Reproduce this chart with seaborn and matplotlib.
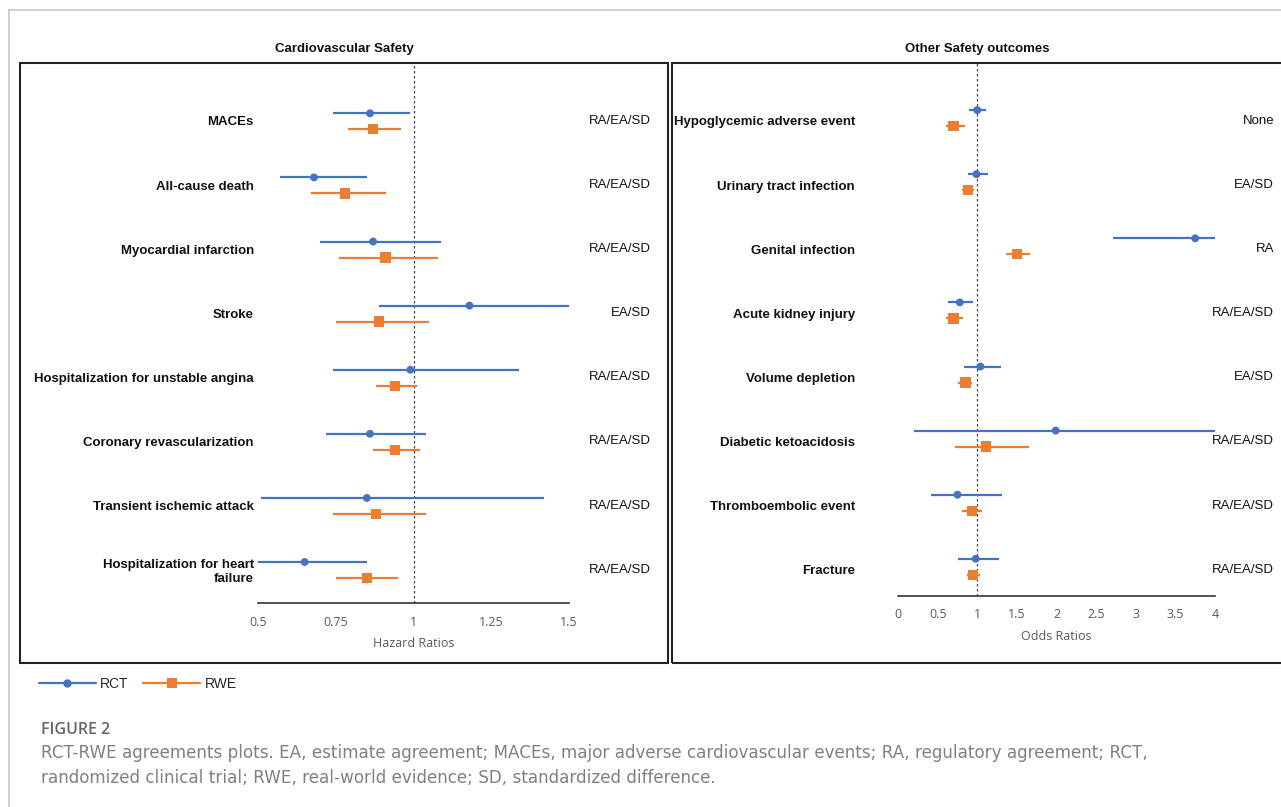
import pandas as pd
import matplotlib.pyplot as plt
import matplotlib.transforms as mtransforms
import seaborn as sns
from matplotlib.lines import Line2D
from matplotlib.patches import Rectangle

# ---- dati ----
cv_outcomes = ["MACEs", "All-cause death", "Myocardial infarction", "Stroke",
               "Hospitalization for unstable angina", "Coronary revascularization",
               "Transient ischemic attack", "Hospitalization for heart\nfailure"]
cv_rct_est = [0.86, 0.68, 0.87, 1.18, 0.99, 0.86, 0.85, 0.65]
cv_rct_lo = [0.74, 0.57, 0.70, 0.89, 0.74, 0.72, 0.51, 0.50]
cv_rct_hi = [0.99, 0.85, 1.09, 1.50, 1.34, 1.04, 1.42, 0.85]
cv_rwe_est = [0.87, 0.78, 0.91, 0.89, 0.94, 0.94, 0.88, 0.85]
cv_rwe_lo = [0.79, 0.67, 0.76, 0.75, 0.88, 0.87, 0.74, 0.75]
cv_rwe_hi = [0.96, 0.91, 1.08, 1.05, 1.01, 1.02, 1.04, 0.95]
cv_agreement = ["RA/EA/SD", "RA/EA/SD", "RA/EA/SD", "EA/SD",
                "RA/EA/SD", "RA/EA/SD", "RA/EA/SD", "RA/EA/SD"]

ot_outcomes = ["Hypoglycemic adverse event", "Urinary tract infection", "Genital infection",
               "Acute kidney injury", "Volume depletion", "Diabetic ketoacidosis",
               "Thromboembolic event", "Fracture"]
ot_rct_est = [1.00, 0.99, 3.75, 0.78, 1.04, 1.99, 0.75, 0.98]
ot_rct_lo = [0.90, 0.88, 2.71, 0.63, 0.83, 0.20, 0.42, 0.76]
ot_rct_hi = [1.11, 1.13, 4.00, 0.95, 1.30, 4.00, 1.31, 1.27]
ot_rwe_est = [0.70, 0.88, 1.50, 0.70, 0.85, 1.11, 0.93, 0.95]
ot_rwe_lo = [0.60, 0.81, 1.36, 0.60, 0.76, 0.72, 0.81, 0.87]
ot_rwe_hi = [0.84, 0.96, 1.66, 0.82, 0.94, 1.65, 1.06, 1.03]
ot_agreement = ["None", "EA/SD", "RA", "RA/EA/SD", "EA/SD", "RA/EA/SD", "RA/EA/SD", "RA/EA/SD"]

W, H = 1281, 807
BLUE = "#4472C4"
ORANGE = "#ED7D31"
palette = {"RCT": BLUE, "RWE": ORANGE}

sns.set_style("white")
SANS = ["Liberation Sans", "DejaVu Sans"]
LIGHT = ["Open Sans", "DejaVu Sans"]
plt.rcParams["font.family"] = SANS


def fx(x):
    return x / W


def fy(y):
    return 1 - y / H


def long_table(outcomes, rct_est, rct_lo, rct_hi, rwe_est, rwe_lo, rwe_hi, off_rct, off_rwe):
    rows = []
    for i, name in enumerate(outcomes):
        rows.append(dict(outcome=name, source="RCT", est=rct_est[i], lo=rct_lo[i],
                         hi=rct_hi[i], ypos=i + off_rct))
        rows.append(dict(outcome=name, source="RWE", est=rwe_est[i], lo=rwe_lo[i],
                         hi=rwe_hi[i], ypos=i + off_rwe))
    return pd.DataFrame(rows)


def forest(ax, df, outcomes, agreement, xlim, ticks, ticklabels, xlabel, ylim, label_pad, agree_x):
    # intervalli di confidenza
    for src, sub in df.groupby("source"):
        ax.hlines(sub["ypos"], sub["lo"], sub["hi"], color=palette[src], lw=1.6, zorder=2)
    # stime puntuali
    sns.scatterplot(data=df, x="est", y="ypos", hue="source", style="source",
                    markers={"RCT": "o", "RWE": "s"}, palette=palette,
                    size="source", sizes={"RCT": 32, "RWE": 55},
                    linewidth=0, legend=False, ax=ax, zorder=3)
    ax.axvline(1, color="#444444", lw=0.9, ls=(0, (2, 2)), zorder=1)
    ax.set_xlim(*xlim)
    ax.set_ylim(*ylim)
    ax.set_xticks(ticks)
    ax.set_xticklabels(ticklabels, family=LIGHT, fontsize=9, color="#595959")
    ax.tick_params(axis="x", length=4, width=1, color="#333333", pad=5)
    ax.set_yticks(range(len(outcomes)))
    ax.set_yticklabels(outcomes, fontweight="bold", fontsize=9.5, color="#111111")
    ax.tick_params(axis="y", length=0, pad=label_pad)
    ax.set_xlabel(xlabel, family=LIGHT, fontsize=9, color="#595959", labelpad=6)
    ax.set_ylabel("")
    for s in ["top", "right", "left"]:
        ax.spines[s].set_visible(False)
    ax.spines["bottom"].set_bounds(xlim[0], xlim[1])
    ax.spines["bottom"].set_color("#333333")
    ax.spines["bottom"].set_linewidth(1.2)
    ax.patch.set_alpha(0)
    trans = mtransforms.blended_transform_factory(ax.figure.transFigure, ax.transData)
    for i, txt in enumerate(agreement):
        ax.text(agree_x, i, txt, transform=trans, ha="right", va="center",
                fontsize=9.5, color="#111111")


fig = plt.figure(figsize=(W / 100, H / 100), dpi=100)

# bordi pagina grigi
fig.add_artist(Line2D([fx(9), fx(9)], [fy(10), 0], color="#c8c8c8", lw=1.2))
fig.add_artist(Line2D([fx(9), 1], [fy(10), fy(10)], color="#c8c8c8", lw=1.2))

# riquadri dei pannelli
fig.add_artist(Rectangle((fx(20), fy(663)), fx(648), (663 - 63) / H, fill=False,
                         ec="#222222", lw=1.5, transform=fig.transFigure))
fig.add_artist(Rectangle((fx(672), fy(663)), fx(640), (663 - 63) / H, fill=False,
                         ec="#222222", lw=1.5, transform=fig.transFigure, clip_on=False))

row0, step = 121.0, 64.1

ax1 = fig.add_axes([fx(258), fy(603), fx(311), 540 / H])
df_cv = long_table(cv_outcomes, cv_rct_est, cv_rct_lo, cv_rct_hi,
                   cv_rwe_est, cv_rwe_lo, cv_rwe_hi, -0.12, 0.13)
forest(ax1, df_cv, cv_outcomes, cv_agreement, (0.5, 1.5), [0.5, 0.75, 1, 1.25, 1.5],
       ["0.5", "0.75", "1", "1.25", "1.5"], "Hazard Ratios",
       ((603 - row0) / step, (63 - row0) / step), 3, fx(651))

ax2 = fig.add_axes([fx(898), fy(596), fx(317), 533 / H])
df_ot = long_table(ot_outcomes, ot_rct_est, ot_rct_lo, ot_rct_hi,
                   ot_rwe_est, ot_rwe_lo, ot_rwe_hi, -0.17, 0.08)
forest(ax2, df_ot, ot_outcomes, ot_agreement, (0, 4), [0, 0.5, 1, 1.5, 2, 2.5, 3, 3.5, 4],
       ["0", "0.5", "1", "1.5", "2", "2.5", "3", "3.5", "4"], "Odds Ratios",
       ((596 - row0) / step, (63 - row0) / step), 31, fx(1274))

# titoli dei pannelli
fig.text(fx(344), fy(49), "Cardiovascular Safety", ha="center", va="center",
         fontweight="bold", fontsize=9.5, color="#111111")
fig.text(fx(977), fy(49), "Other Safety outcomes", ha="center", va="center",
         fontweight="bold", fontsize=9.5, color="#111111")

# legenda
handles = [Line2D([], [], color=BLUE, lw=1.6, marker="o", markersize=6, markeredgewidth=0),
           Line2D([], [], color=ORANGE, lw=1.6, marker="s", markersize=7, markeredgewidth=0)]
fig.legend(handles, ["RCT", "RWE"], loc="center left", bbox_to_anchor=(fx(33), fy(684)),
           ncol=2, frameon=False, handlelength=4.1, handletextpad=0.3, columnspacing=1.1,
           fontsize=10, borderaxespad=0)

# didascalia
fig.text(fx(41), fy(730), "FIGURE 2", family=LIGHT, fontsize=11.5, color="#666666",
         va="center", fontweight="semibold")
fig.text(fx(41), fy(753), "RCT-RWE agreements plots. EA, estimate agreement; MACEs, major adverse "
         "cardiovascular events; RA, regulatory agreement; RCT,", family=["DejaVu Sans"],
         fontsize=12.1, color="#808080", va="center")
fig.text(fx(41), fy(778), "randomized clinical trial; RWE, real-world evidence; SD, standardized "
         "difference.", family=["DejaVu Sans"], fontsize=12.1, color="#808080", va="center")

fig.savefig("out.png", dpi=100)
